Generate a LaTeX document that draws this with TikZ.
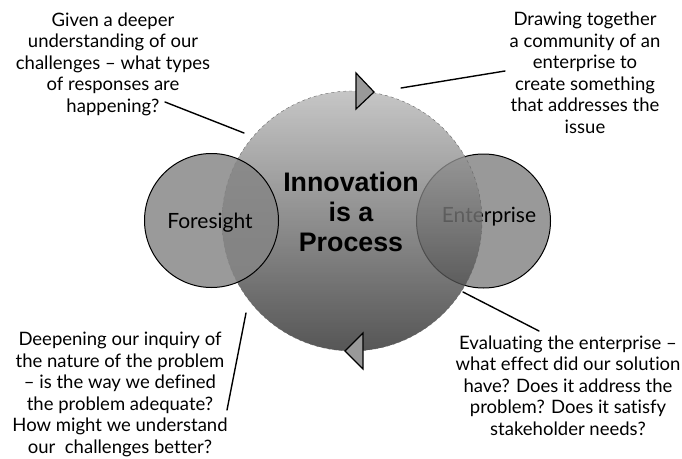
\documentclass[tikz,border=0pt]{standalone}
\usepackage{fontspec}
\setmainfont{Lato}[Ligatures=NoCommon]
\newfontfamily\headfont{Liberation Sans}
\definecolor{proctop}{gray}{0.72}
\definecolor{procmid}{gray}{0.55}
\definecolor{procbot}{gray}{0.17}
\definecolor{ringgray}{gray}{0.6}
\definecolor{foregray}{gray}{0.52}
\tikzset{
  note/.style={align=center, font=\fontsize{18.5}{21.5}\selectfont},
  ring/.style={circle, draw=black, line width=1pt, minimum size=134pt, inner sep=0pt},
  ringtext/.style={font=\fontsize{21}{22}\selectfont},
  lead/.style={line width=1.4pt, line cap=round},
  turn/.style={fill=ringgray, draw=black, line width=1.2pt, line join=miter}
}
\begin{document}
\begin{tikzpicture}[x=1pt, y=-1pt]
\useasboundingbox (0,0) rectangle (682,458);
\node[ring, fill=ringgray] (ent) at (483.5,221) {};
\node[ringtext] (entlabel) at (489,217) {Enterprise};
\node[circle, minimum size=260pt, inner sep=0pt, top color=proctop, middle color=procmid, bottom color=procbot,
      fill opacity=0.8, draw=black!60, dashed, line width=0.4pt] (proc) at (352,221) {};
\node[ring, fill=foregray, fill opacity=0.83] (fore) at (211.5,220.5) {};
\node[ringtext] (forelabel) at (210,223) {Foresight};
\node[align=center, font=\headfont\bfseries\fontsize{26.8}{30}\selectfont] (proclabel) at (351,212) {Innovation\\is a\\Process};
\draw[turn] (356,73) -- (356,109) -- (374,92) -- cycle;
\draw[turn] (363,333) -- (363,369) -- (345,351) -- cycle;
\node[note] (given) at (113,64) {Given a deeper\\understanding of our\\challenges – what types\\of responses are\\happening?};
\node[note] (draw) at (585,73) {Drawing together\\a community of an\\enterprise to\\create something\\that addresses the\\issue};
\node[note] (deep) at (120,394.5) {Deepening our inquiry of\\the nature of the problem\\– is the way we defined\\the problem adequate?\\How might we understand\\our\ \ challenges better?};
\node[note] (eval) at (568,385.5) {Evaluating the enterprise –\\what effect did our solution\\have? Does it address the\\problem? Does it satisfy\\stakeholder needs?};
\coordinate (givenend) at (165,102); \coordinate (givenpt) at (244,133);
\coordinate (drawend) at (505,71); \coordinate (drawpt) at (401,88);
\coordinate (deepend) at (227,410); \coordinate (deeppt) at (246,313);
\coordinate (evalend) at (539,331); \coordinate (evalpt) at (463,292);
\draw[lead] (givenend) -- (givenpt);
\draw[lead] (drawend) -- (drawpt);
\draw[lead] (deepend) -- (deeppt);
\draw[lead] (evalend) -- (evalpt);
\end{tikzpicture}
\end{document}
